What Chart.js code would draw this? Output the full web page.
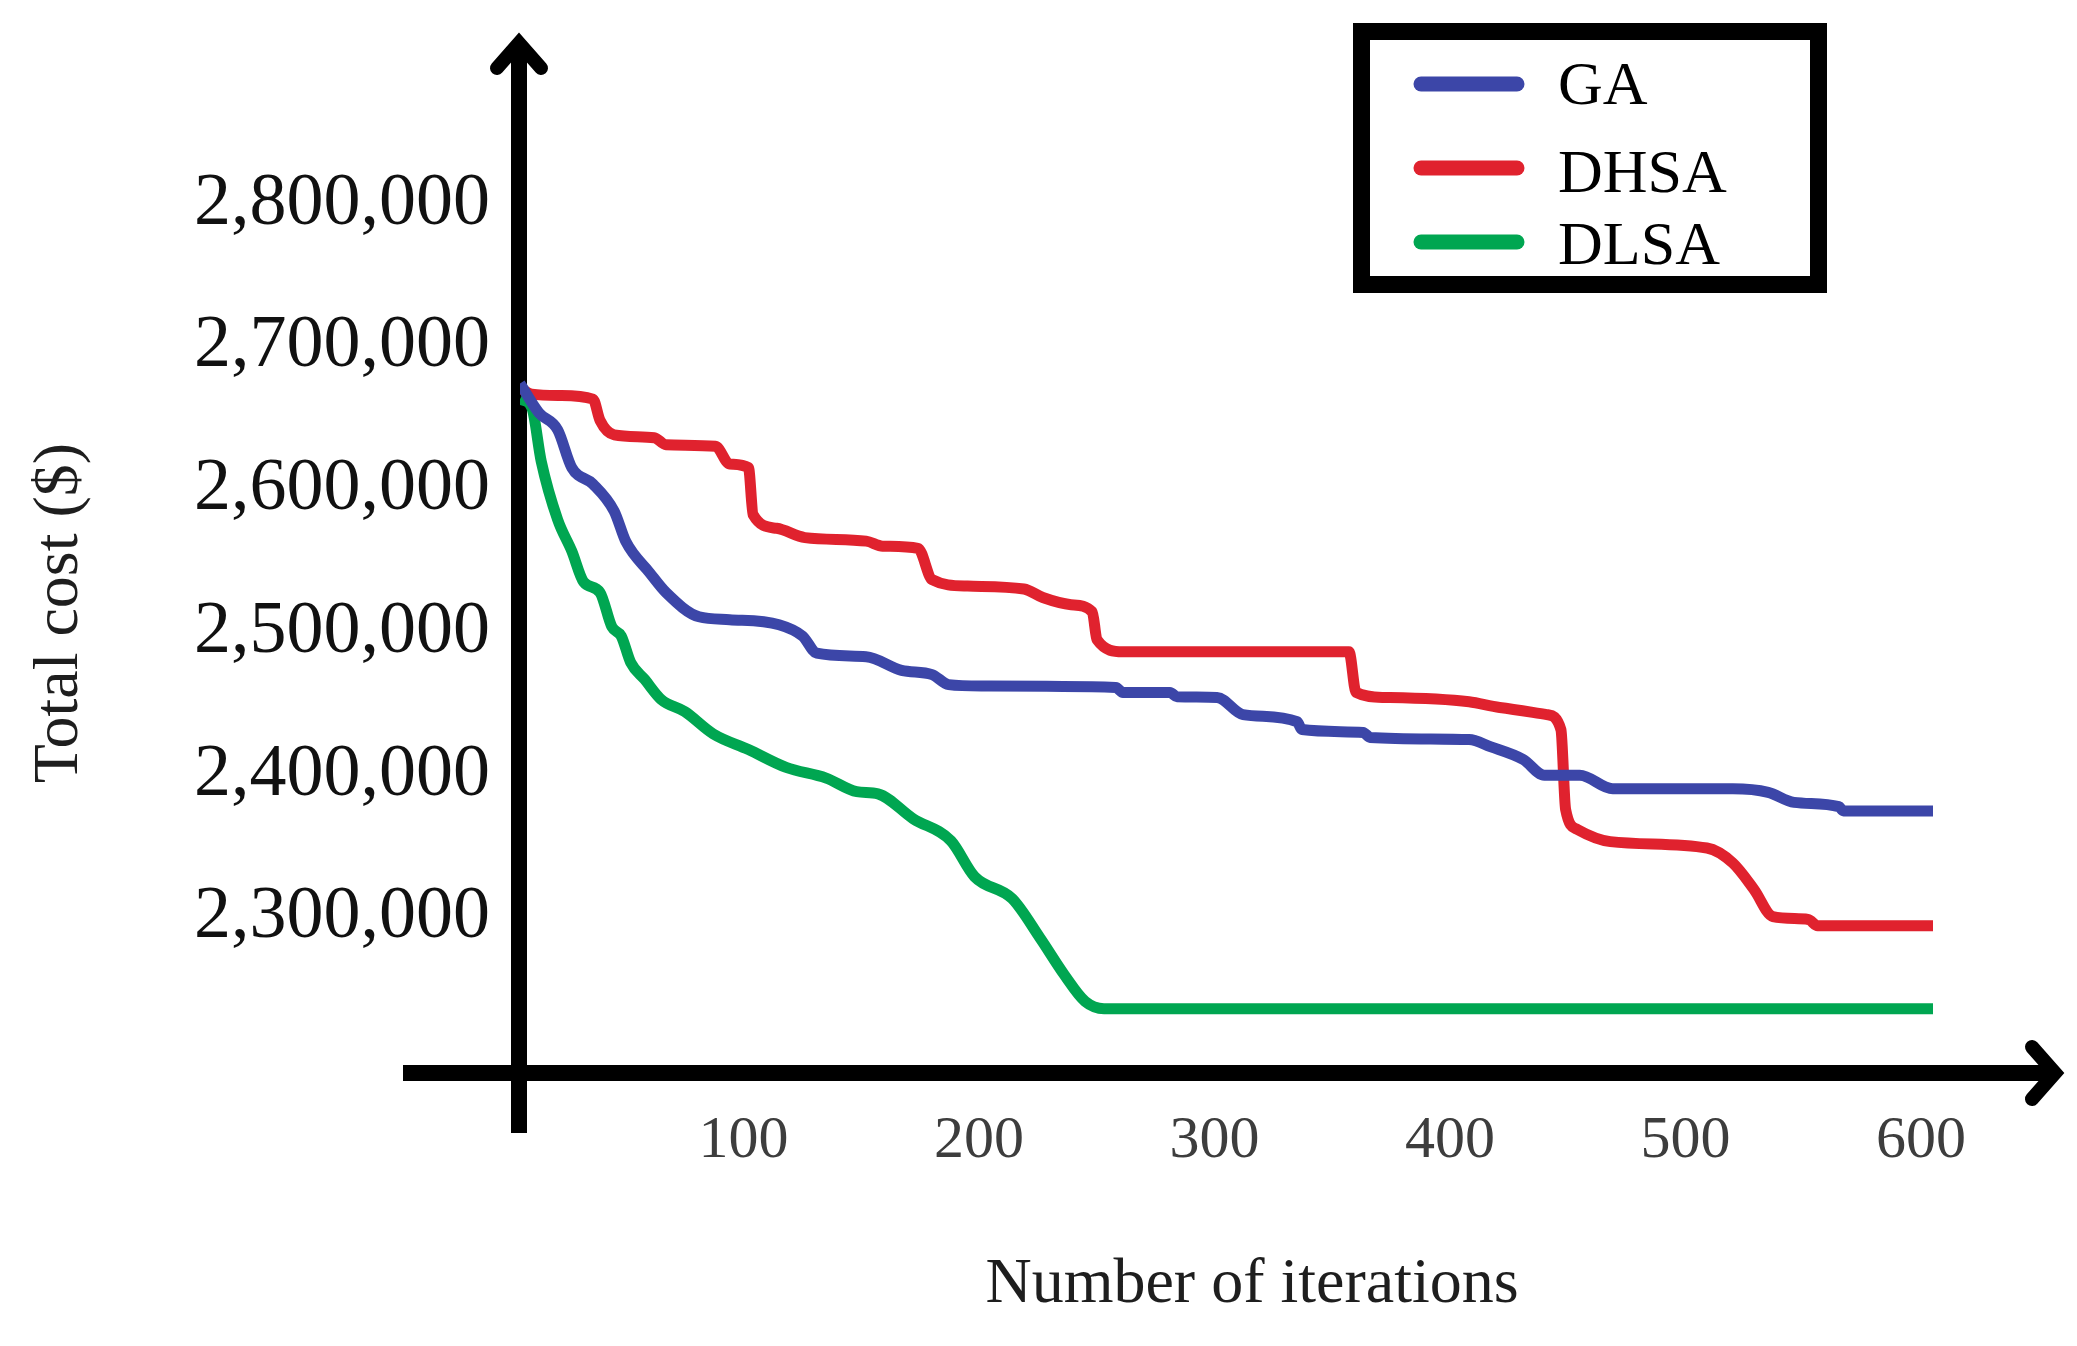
<!DOCTYPE html>
<html>
<head>
<meta charset="utf-8">
<title>Total cost vs number of iterations</title>
<script src="https://cdn.jsdelivr.net/npm/chart.js@4.4.0/dist/chart.umd.min.js"></script>
<style>
  html, body { margin: 0; padding: 0; background: #fff; }
  #wrap { width: 2077px; height: 1346px; position: relative; }
</style>
</head>
<body>
<div id="wrap"><canvas id="costChart"></canvas></div>
<script>
// Values: iteration number and total cost ($)
const gaIter = [0, 8, 16, 22, 31, 40, 45, 55, 62, 76, 89, 110, 120, 126, 147, 162, 175, 182, 196, 253, 256, 276, 279, 296, 307, 330, 332, 358, 361, 403, 412, 426, 435, 450, 464, 515, 530, 541, 560, 562, 600];
const gaCost = [2674500, 2654000, 2642000, 2615500, 2604000, 2585000, 2563500, 2542000, 2528000, 2511000, 2509000, 2505500, 2497500, 2485500, 2483000, 2473500, 2470500, 2463500, 2462500, 2461500, 2458000, 2458000, 2455000, 2454500, 2442500, 2437500, 2432000, 2430000, 2426500, 2425000, 2420000, 2411000, 2400000, 2400000, 2390500, 2390500, 2388000, 2381000, 2378000, 2375000, 2375000];

const dhsaIter = [0, 5, 17, 31, 34, 40, 57, 62, 83, 89, 97, 99, 109, 121, 147, 154, 169, 175, 190, 214, 222, 234, 243, 245, 256, 352, 355, 367, 403, 416, 436, 442, 444, 449, 463, 504, 515, 524, 532, 547, 551, 600];
const dhsaCost = [2671500, 2667000, 2666000, 2663500, 2648500, 2638500, 2636500, 2631500, 2630500, 2618000, 2615500, 2582500, 2573000, 2566500, 2564000, 2560500, 2559000, 2537000, 2532500, 2530500, 2524500, 2519500, 2514500, 2495000, 2486500, 2486500, 2458000, 2454500, 2451500, 2447500, 2442500, 2432000, 2376000, 2362000, 2353500, 2349000, 2338500, 2320000, 2301000, 2299000, 2294500, 2294500];

const dlsaIter = [0, 5, 9, 16, 22, 27, 34, 39, 43, 47, 53, 60, 70, 82, 97, 113, 130, 143, 152, 167, 183, 193, 209, 221, 231, 240, 248, 600];
const dlsaCost = [2663500, 2657500, 2620000, 2579000, 2557000, 2535500, 2528000, 2504000, 2497500, 2479000, 2467000, 2453000, 2444500, 2429000, 2418000, 2405500, 2398000, 2388500, 2387000, 2369500, 2354000, 2329000, 2313500, 2285500, 2260500, 2241500, 2236500, 2236500];

const xTicks = [100, 200, 300, 400, 500, 600];
const yTicks = [2300000, 2400000, 2500000, 2600000, 2700000, 2800000];

const SERIF = '"Liberation Serif", "Times New Roman", serif';

function toPoints(xs, ys) {
    return xs.map((x, i) => ({ x: x, y: ys[i] }));
}

// Axes with arrows, axis titles and the framed legend
const figureDecor = {
    id: "figureDecor",
    beforeDatasetsDraw(chart) {
        const { ctx, chartArea, scales } = chart;
        const ax = scales.x.getPixelForValue(0) - 1;
        const ay = chartArea.bottom - 2;
        ctx.save();
        ctx.strokeStyle = "#000";

        // axe vertical
        ctx.lineWidth = 16;
        ctx.lineCap = "butt";
        ctx.beginPath();
        ctx.moveTo(ax, ay + 60);
        ctx.lineTo(ax, chartArea.top + 14);
        ctx.stroke();
        // axe horizontal
        ctx.beginPath();
        ctx.moveTo(ax - 116, ay);
        ctx.lineTo(chartArea.right + 120, ay);
        ctx.stroke();

        // pointes de flèche
        ctx.lineWidth = 14;
        ctx.lineCap = "round";
        ctx.lineJoin = "miter";
        const tipY = chartArea.top + 10;
        ctx.beginPath();
        ctx.moveTo(ax - 22, tipY + 25);
        ctx.lineTo(ax, tipY);
        ctx.lineTo(ax + 22, tipY + 25);
        ctx.stroke();
        const tipX = chartArea.right + 122;
        ctx.beginPath();
        ctx.moveTo(tipX - 23, ay - 26);
        ctx.lineTo(tipX, ay);
        ctx.lineTo(tipX - 23, ay + 26);
        ctx.stroke();
        ctx.restore();
    },
    afterDraw(chart) {
        const { ctx } = chart;
        ctx.save();

        // titres des axes
        ctx.fillStyle = "#1e1e1e";
        ctx.font = "64px " + SERIF;
        ctx.textAlign = "center";
        ctx.textBaseline = "middle";
        ctx.fillText("Number of iterations", 1252, 1285);
        ctx.save();
        ctx.translate(60, 613);
        ctx.rotate(-Math.PI / 2);
        ctx.fillText("Total cost ($)", 0, 0);
        ctx.restore();

        // légende encadrée
        ctx.strokeStyle = "#000";
        ctx.lineWidth = 17;
        ctx.strokeRect(1361.5, 31.5, 457, 253);
        const rows = [104, 192, 264];
        const lineY = [84, 168, 242];
        ctx.font = "62px " + SERIF;
        ctx.textAlign = "left";
        ctx.textBaseline = "alphabetic";
        chart.data.datasets.forEach((ds, i) => {
            ctx.strokeStyle = ds.borderColor;
            ctx.lineWidth = 15;
            ctx.lineCap = "round";
            ctx.beginPath();
            ctx.moveTo(1421, lineY[i]);
            ctx.lineTo(1517, lineY[i]);
            ctx.stroke();
            ctx.fillStyle = "#000";
            ctx.fillText(ds.label, 1558, rows[i]);
        });
        ctx.restore();
    }
};

const lineStyle = {
    borderWidth: 11,
    pointRadius: 0,
    fill: false,
    cubicInterpolationMode: "monotone",
    borderJoinStyle: "round",
    borderCapStyle: "butt"
};

new Chart(document.getElementById("costChart"), {
    type: "line",
    data: {
        datasets: [
            Object.assign({ label: "GA", data: toPoints(gaIter, gaCost), borderColor: "#3c46a8" }, lineStyle),
            Object.assign({ label: "DHSA", data: toPoints(dhsaIter, dhsaCost), borderColor: "#e0222e" }, lineStyle),
            Object.assign({ label: "DLSA", data: toPoints(dlsaIter, dlsaCost), borderColor: "#00a651" }, lineStyle)
        ]
    },
    options: {
        responsive: true,
        maintainAspectRatio: false,
        animation: false,
        layout: { padding: { top: 33, right: 144, left: 0, bottom: 0 } },
        plugins: {
            legend: { display: false },
            tooltip: { enabled: false }
        },
        scales: {
            x: {
                type: "linear",
                min: 0,
                max: 600,
                grid: { display: false, drawTicks: false },
                border: { display: false },
                afterBuildTicks: (scale) => { scale.ticks = xTicks.map(v => ({ value: v })); },
                afterFit: (scale) => {
                    scale.height = 271;
                    scale.paddingLeft = 0;
                    scale.paddingRight = 0;
                },
                ticks: {
                    font: { family: SERIF, size: 60 },
                    color: "#3d3d3d",
                    padding: 30,
                    labelOffset: -12,
                    maxRotation: 0,
                    autoSkip: false
                }
            },
            y: {
                type: "linear",
                min: 2190000,
                max: 2920000,
                grid: { display: false, drawTicks: false },
                border: { display: false },
                afterBuildTicks: (scale) => { scale.ticks = yTicks.map(v => ({ value: v })); },
                afterFit: (scale) => {
                    scale.width = 520;
                    scale.paddingTop = 0;
                    scale.paddingBottom = 0;
                },
                ticks: {
                    font: { family: SERIF, size: 74 },
                    color: "#111",
                    padding: 30,
                    autoSkip: false,
                    callback: (v) => v.toLocaleString("en-US")
                }
            }
        }
    },
    plugins: [figureDecor]
});
</script>
</body>
</html>
